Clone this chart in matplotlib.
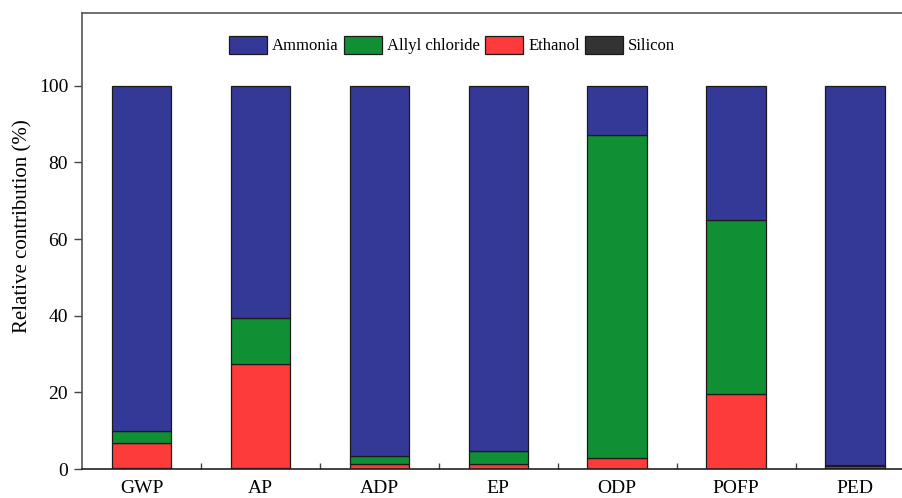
import matplotlib
matplotlib.use("Agg")
import matplotlib.pyplot as plt
import numpy as np

plt.rcParams['font.family'] = ['Liberation Serif', 'DejaVu Serif']

categories = ['GWP', 'AP', 'ADP', 'EP', 'ODP', 'POFP', 'PED']
silicon = [0.2, 0.3, 0.1, 0.1, 0.1, 0.1, 0.3]
ethanol = [6.5, 27.2, 1.2, 1.1, 2.7, 19.5, 0.6]
allyl_chloride = [3.2, 12.0, 2.2, 3.6, 84.4, 45.4, 0.1]
ammonia = [90.1, 60.5, 96.5, 95.2, 12.8, 35.0, 99.0]

fig = plt.figure(figsize=(9.03, 4.98), dpi=100)
ax = fig.add_axes([82 / 903, 29 / 498, 832.5 / 903, 456 / 498])

x = np.arange(len(categories))
width = 0.5
bottom = np.zeros(len(categories))
series = [
    ('Silicon', silicon, '#333333'),
    ('Ethanol', ethanol, '#fd3b3b'),
    ('Allyl chloride', allyl_chloride, '#118f35'),
    ('Ammonia', ammonia, '#343997'),
]
handles = {}
for name, vals, color in series:
    vals = np.array(vals)
    b = ax.bar(x, vals, width, bottom=bottom, color=color, edgecolor='#1a1a1a',
               linewidth=0.9, label=name)
    handles[name] = b
    bottom += vals

ax.set_xlim(-0.5, 6.5)
ax.set_ylim(0, 119)
ax.set_yticks([0, 20, 40, 60, 80, 100])
ax.set_xticks(x)
ax.set_xticklabels(categories)
ax.set_xticks(x[:-1] + 0.5, minor=True)
ax.tick_params(axis='x', which='major', length=0, pad=8, labelsize=14)
ax.tick_params(axis='x', which='minor', direction='in', length=4, width=1, color='#444444')
ax.tick_params(axis='y', direction='out', length=6, width=1, labelsize=14, pad=4, color='#444444')
ax.set_ylabel('Relative contribution (%)', fontsize=15)
ax.yaxis.set_label_coords(-0.060, 0.533)

for side in ['left', 'bottom', 'top']:
    ax.spines[side].set_color('#555555')
    ax.spines[side].set_linewidth(1.2)
ax.spines['bottom'].set_color('#222222')

order = ['Ammonia', 'Allyl chloride', 'Ethanol', 'Silicon']
fig.legend([handles[n] for n in order], order, loc='center', bbox_to_anchor=(452 / 903, 1 - 45 / 498),
           ncol=4, frameon=False, prop={'family': 'Liberation Serif', 'size': 12},
           handlelength=2.3, handleheight=1.3, handletextpad=0.3, columnspacing=0.3)

fig.savefig('out.png', dpi=100)
